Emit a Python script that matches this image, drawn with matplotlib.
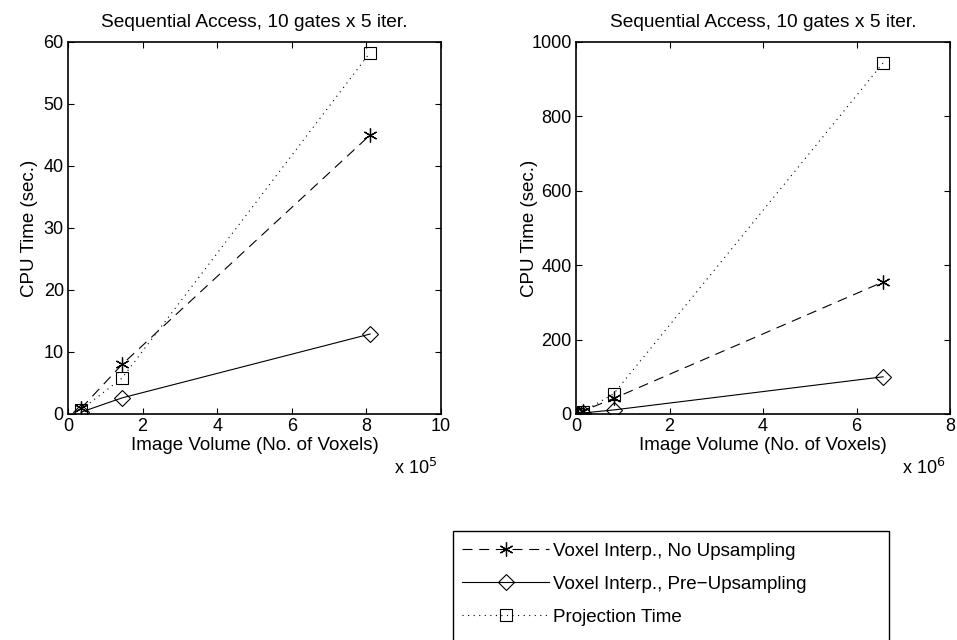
import matplotlib
matplotlib.use("Agg")
import matplotlib.pyplot as plt
from matplotlib.lines import Line2D
from matplotlib.patches import Rectangle

plt.rcParams['font.family'] = ['Liberation Sans', 'DejaVu Sans']

# Left panel data (x in units of 1e5 voxels)
left_x = [0.35, 1.45, 8.1]
left_no_up = [0.9, 8.0, 45.0]
left_pre_up = [0.3, 2.6, 12.9]
left_proj = [0.7, 5.8, 58.3]

# Right panel data (x in units of 1e6 voxels)
right_x = [0.033, 0.145, 0.81, 6.57]
right_no_up = [0.9, 8.0, 42.0, 355.0]
right_pre_up = [0.3, 2.6, 11.0, 100.0]
right_proj = [0.7, 5.8, 55.0, 944.0]

title = "Sequential Access, 10 gates x 5 iter."
xlab = "Image Volume (No. of Voxels)"
ylab = "CPU Time (sec.)"
labels = ["Voxel Interp., No Upsampling", "Voxel Interp., Pre\u2212Upsampling", "Projection Time"]

W, H = 957, 640
fig = plt.figure(figsize=(W / 100, H / 100), dpi=100)

def px_axes(x0, y0, x1, y1):
    return fig.add_axes([x0 / W, 1 - y1 / H, (x1 - x0) / W, (y1 - y0) / H])

ax1 = px_axes(68, 42, 441, 414)
ax2 = px_axes(576, 42, 950, 414)

lw = 0.8
dash = (0, (9, 6))
dot = (0, (1, 4))
star = (6, 2, 0)
styles = [
    dict(color='black', linestyle=dash, linewidth=lw, marker=star, markersize=10,
         markerfacecolor='none', markeredgewidth=0.9),
    dict(color='black', linestyle='-', linewidth=lw, marker='D', markersize=8,
         markerfacecolor='none', markeredgewidth=0.8),
    dict(color='black', linestyle=dot, linewidth=lw, marker='s', markersize=8,
         markerfacecolor='none', markeredgewidth=0.8),
]

def draw(ax, x, a, b, c):
    for ys, st in zip((a, b, c), styles):
        ax.plot(x, ys, **st)

draw(ax1, left_x, left_no_up, left_pre_up, left_proj)
draw(ax2, right_x, right_no_up, right_pre_up, right_proj)

ax1.set_xlim(0, 10)
ax1.set_ylim(0, 60)
ax1.set_xticks([0, 2, 4, 6, 8, 10])
ax1.set_yticks([0, 10, 20, 30, 40, 50, 60])
ax2.set_xlim(0, 8)
ax2.set_ylim(0, 1000)
ax2.set_xticks([0, 2, 4, 6, 8])
ax2.set_yticks([0, 200, 400, 600, 800, 1000])

fs = 13.5
tfs = 13
for ax, ylx in ((ax1, -38 / 373), (ax2, -46 / 374)):
    ax.tick_params(direction='in', length=4, width=0.8, top=True, right=True,
                   labelsize=tfs, pad=3, colors='black')
    for s in ax.spines.values():
        s.set_linewidth(1.2)
    ax.set_title(title, fontsize=13.8, pad=11)
    ax.set_xlabel(xlab, fontsize=fs, labelpad=1)
    ax.set_ylabel(ylab, fontsize=fs, va='center')
    ax.yaxis.set_label_coords(ylx, 0.5)

fig.text((441 - 47) / W, 1 - 468 / H, "x 10$^{5}$", fontsize=fs - 0.5, va='center', ha='left')
fig.text((950 - 48) / W, 1 - 468 / H, "x 10$^{6}$", fontsize=fs - 0.5, va='center', ha='left')

handles = [Line2D([], [], **st) for st in styles]
leg = fig.legend(handles, labels, loc='upper left',
                 bbox_to_anchor=(453 / W, 1 - 533 / H, (889 - 453) / W, 0.0),
                 mode='expand', borderaxespad=0, frameon=False,
                 fontsize=fs, handlelength=4.6, handletextpad=0.25, labelspacing=0.85,
                 borderpad=0.5)

fig.patches.append(Rectangle((453 / W, -0.05), (889 - 453) / W, (1 - 531 / H) + 0.05,
                             transform=fig.transFigure, fill=False, edgecolor='black',
                             linewidth=1.0, zorder=0))

fig.savefig("out.png", dpi=100)
